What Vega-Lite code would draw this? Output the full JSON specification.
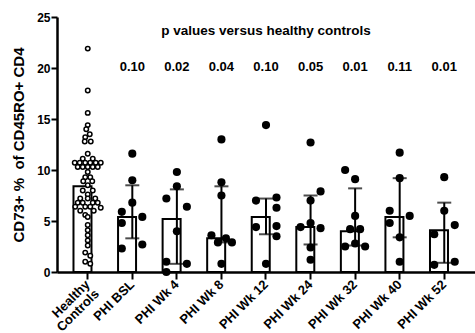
{
  "$schema": "https://vega.github.io/schema/vega-lite/v6.json",
  "width": 418,
  "height": 255,
  "autosize": {"type": "none"},
  "padding": {"left": 57, "top": 17, "right": 0, "bottom": 61},
  "background": "white",
  "datasets": {
    "points": [
      {"group": "Healthy Controls", "value": 21.9, "lane": 0},
      {"group": "Healthy Controls", "value": 17.8, "lane": 0},
      {"group": "Healthy Controls", "value": 15.6, "lane": 0},
      {"group": "Healthy Controls", "value": 14.4, "lane": 0},
      {"group": "Healthy Controls", "value": 14.0, "lane": -0.3},
      {"group": "Healthy Controls", "value": 13.5, "lane": 0.4},
      {"group": "Healthy Controls", "value": 13.2, "lane": -0.5},
      {"group": "Healthy Controls", "value": 12.8, "lane": -0.6},
      {"group": "Healthy Controls", "value": 12.8, "lane": 0.6},
      {"group": "Healthy Controls", "value": 11.6, "lane": 0},
      {"group": "Healthy Controls", "value": 11.1, "lane": -1},
      {"group": "Healthy Controls", "value": 11.1, "lane": 1},
      {"group": "Healthy Controls", "value": 10.7, "lane": -2.6},
      {"group": "Healthy Controls", "value": 10.7, "lane": -1.6},
      {"group": "Healthy Controls", "value": 10.7, "lane": -0.5},
      {"group": "Healthy Controls", "value": 10.7, "lane": 0.5},
      {"group": "Healthy Controls", "value": 10.7, "lane": 1.6},
      {"group": "Healthy Controls", "value": 10.7, "lane": 2.6},
      {"group": "Healthy Controls", "value": 10.3, "lane": -2},
      {"group": "Healthy Controls", "value": 10.3, "lane": -1},
      {"group": "Healthy Controls", "value": 10.3, "lane": 0},
      {"group": "Healthy Controls", "value": 10.3, "lane": 1},
      {"group": "Healthy Controls", "value": 10.3, "lane": 2},
      {"group": "Healthy Controls", "value": 9.8, "lane": 0},
      {"group": "Healthy Controls", "value": 9.3, "lane": -0.5},
      {"group": "Healthy Controls", "value": 9.3, "lane": 0.5},
      {"group": "Healthy Controls", "value": 8.9, "lane": -0.9},
      {"group": "Healthy Controls", "value": 8.9, "lane": 0.9},
      {"group": "Healthy Controls", "value": 8.5, "lane": 0},
      {"group": "Healthy Controls", "value": 8.0, "lane": -1},
      {"group": "Healthy Controls", "value": 8.0, "lane": 1},
      {"group": "Healthy Controls", "value": 7.6, "lane": 0},
      {"group": "Healthy Controls", "value": 7.2, "lane": -1.5},
      {"group": "Healthy Controls", "value": 7.2, "lane": 0},
      {"group": "Healthy Controls", "value": 7.2, "lane": 1.5},
      {"group": "Healthy Controls", "value": 6.8, "lane": -2},
      {"group": "Healthy Controls", "value": 6.8, "lane": -1},
      {"group": "Healthy Controls", "value": 6.8, "lane": 1},
      {"group": "Healthy Controls", "value": 6.8, "lane": 2},
      {"group": "Healthy Controls", "value": 6.4, "lane": -2.5},
      {"group": "Healthy Controls", "value": 6.4, "lane": -0.5},
      {"group": "Healthy Controls", "value": 6.4, "lane": 0.5},
      {"group": "Healthy Controls", "value": 6.3, "lane": 2.6},
      {"group": "Healthy Controls", "value": 6.0, "lane": -1.5},
      {"group": "Healthy Controls", "value": 6.0, "lane": 1.2},
      {"group": "Healthy Controls", "value": 5.6, "lane": -0.5},
      {"group": "Healthy Controls", "value": 5.4, "lane": 0},
      {"group": "Healthy Controls", "value": 4.6, "lane": 0},
      {"group": "Healthy Controls", "value": 4.1, "lane": 0},
      {"group": "Healthy Controls", "value": 3.6, "lane": 0},
      {"group": "Healthy Controls", "value": 3.1, "lane": 0},
      {"group": "Healthy Controls", "value": 2.6, "lane": 0},
      {"group": "Healthy Controls", "value": 1.9, "lane": -0.5},
      {"group": "Healthy Controls", "value": 1.6, "lane": 0.5},
      {"group": "Healthy Controls", "value": 1.0, "lane": -0.5},
      {"group": "Healthy Controls", "value": 0.8, "lane": 0.5},
      {"group": "PHI BSL", "value": 11.6, "lane": 0},
      {"group": "PHI BSL", "value": 9.0, "lane": 0},
      {"group": "PHI BSL", "value": 6.8, "lane": 0},
      {"group": "PHI BSL", "value": 5.9, "lane": -2.1},
      {"group": "PHI BSL", "value": 5.4, "lane": 2},
      {"group": "PHI BSL", "value": 4.8, "lane": -2.1},
      {"group": "PHI BSL", "value": 2.7, "lane": 2},
      {"group": "PHI BSL", "value": 2.3, "lane": -2.1},
      {"group": "PHI Wk 4", "value": 9.8, "lane": 0},
      {"group": "PHI Wk 4", "value": 8.4, "lane": 0},
      {"group": "PHI Wk 4", "value": 7.2, "lane": -2.1},
      {"group": "PHI Wk 4", "value": 6.4, "lane": 2},
      {"group": "PHI Wk 4", "value": 4.0, "lane": 0},
      {"group": "PHI Wk 4", "value": 1.0, "lane": -2.1},
      {"group": "PHI Wk 4", "value": 0.8, "lane": 2},
      {"group": "PHI Wk 4", "value": 0.0, "lane": -2.1},
      {"group": "PHI Wk 8", "value": 13.0, "lane": 0},
      {"group": "PHI Wk 8", "value": 8.8, "lane": 0},
      {"group": "PHI Wk 8", "value": 7.5, "lane": 0},
      {"group": "PHI Wk 8", "value": 3.6, "lane": -2},
      {"group": "PHI Wk 8", "value": 2.9, "lane": -0.7},
      {"group": "PHI Wk 8", "value": 3.3, "lane": 0.9},
      {"group": "PHI Wk 8", "value": 2.9, "lane": 2.1},
      {"group": "PHI Wk 8", "value": 0.8, "lane": 0},
      {"group": "PHI Wk 12", "value": 14.4, "lane": 0},
      {"group": "PHI Wk 12", "value": 7.0, "lane": -2},
      {"group": "PHI Wk 12", "value": 7.3, "lane": 2.1},
      {"group": "PHI Wk 12", "value": 6.3, "lane": 2.1},
      {"group": "PHI Wk 12", "value": 4.4, "lane": -2},
      {"group": "PHI Wk 12", "value": 4.5, "lane": 2.1},
      {"group": "PHI Wk 12", "value": 3.5, "lane": 2.1},
      {"group": "PHI Wk 12", "value": 0.8, "lane": 0},
      {"group": "PHI Wk 24", "value": 12.7, "lane": 0},
      {"group": "PHI Wk 24", "value": 7.9, "lane": 2},
      {"group": "PHI Wk 24", "value": 7.0, "lane": 0},
      {"group": "PHI Wk 24", "value": 4.8, "lane": 0},
      {"group": "PHI Wk 24", "value": 4.4, "lane": -2},
      {"group": "PHI Wk 24", "value": 4.3, "lane": 2},
      {"group": "PHI Wk 24", "value": 2.4, "lane": 0},
      {"group": "PHI Wk 24", "value": 1.2, "lane": 0},
      {"group": "PHI Wk 32", "value": 10.0, "lane": -2},
      {"group": "PHI Wk 32", "value": 9.1, "lane": 0},
      {"group": "PHI Wk 32", "value": 5.5, "lane": 0},
      {"group": "PHI Wk 32", "value": 4.2, "lane": -1},
      {"group": "PHI Wk 32", "value": 4.2, "lane": 1},
      {"group": "PHI Wk 32", "value": 2.5, "lane": -2},
      {"group": "PHI Wk 32", "value": 2.8, "lane": 0},
      {"group": "PHI Wk 32", "value": 2.5, "lane": 2},
      {"group": "PHI Wk 40", "value": 11.7, "lane": 0},
      {"group": "PHI Wk 40", "value": 9.2, "lane": 0},
      {"group": "PHI Wk 40", "value": 6.0, "lane": -2},
      {"group": "PHI Wk 40", "value": 5.5, "lane": 2},
      {"group": "PHI Wk 40", "value": 4.8, "lane": -2},
      {"group": "PHI Wk 40", "value": 3.4, "lane": 0},
      {"group": "PHI Wk 40", "value": 1.0, "lane": 0},
      {"group": "PHI Wk 52", "value": 9.3, "lane": 0},
      {"group": "PHI Wk 52", "value": 6.0, "lane": 0},
      {"group": "PHI Wk 52", "value": 4.6, "lane": 2.1},
      {"group": "PHI Wk 52", "value": 3.7, "lane": -2},
      {"group": "PHI Wk 52", "value": 0.7, "lane": -2},
      {"group": "PHI Wk 52", "value": 1.0, "lane": 2.1}
    ],
    "summary": [
      {"group": "Healthy Controls", "median": 8.4},
      {"group": "PHI BSL", "median": 5.4, "q1": 3.3, "q3": 8.5},
      {"group": "PHI Wk 4", "median": 5.2, "q1": 0.8, "q3": 8.1},
      {"group": "PHI Wk 8", "median": 3.3, "q1": 2.9, "q3": 8.4},
      {"group": "PHI Wk 12", "median": 5.4, "q1": 3.7, "q3": 7.2},
      {"group": "PHI Wk 24", "median": 4.4, "q1": 2.7, "q3": 7.5},
      {"group": "PHI Wk 32", "median": 4.0, "q1": 2.6, "q3": 8.2},
      {"group": "PHI Wk 40", "median": 5.4, "q1": 3.4, "q3": 9.2},
      {"group": "PHI Wk 52", "median": 4.1, "q1": 0.9, "q3": 6.8}
    ],
    "pvals": [
      {"group": "PHI BSL", "p": "0.10"},
      {"group": "PHI Wk 4", "p": "0.02"},
      {"group": "PHI Wk 8", "p": "0.04"},
      {"group": "PHI Wk 12", "p": "0.10"},
      {"group": "PHI Wk 24", "p": "0.05"},
      {"group": "PHI Wk 32", "p": "0.01"},
      {"group": "PHI Wk 40", "p": "0.11"},
      {"group": "PHI Wk 52", "p": "0.01"}
    ],
    "heading": [
      {"group": "PHI Wk 12", "text": "p values versus healthy controls"}
    ]
  },
  "encoding": {
    "x": {
      "field": "group",
      "type": "nominal",
      "sort": null,
      "scale": {
        "domain": ["Healthy Controls", "PHI BSL", "PHI Wk 4", "PHI Wk 8", "PHI Wk 12", "PHI Wk 24", "PHI Wk 32", "PHI Wk 40", "PHI Wk 52"],
        "paddingInner": 0.36,
        "paddingOuter": 0.37
      },
      "axis": {
        "title": null,
        "labelAngle": -45,
        "labelAlign": "right",
        "labelBaseline": "middle",
        "labelFontSize": 13,
        "labelPadding": 3,
        "labelLineHeight": 13,
        "labelExpr": "datum.label == 'Healthy Controls' ? ['Healthy', 'Controls'] : datum.label",
        "tickSize": 7,
        "tickWidth": 2,
        "domainWidth": 2.5
      }
    }
  },
  "layer": [
    {
      "data": {"name": "summary"},
      "mark": {"type": "bar", "fill": "white", "stroke": "black", "strokeWidth": 2, "width": {"band": 1}},
      "encoding": {
        "y": {
          "field": "median",
          "type": "quantitative",
          "scale": {"domain": [0, 25], "nice": false},
          "axis": {
            "title": "CD73+ %\u00a0 of CD45RO+ CD4",
            "titleFontSize": 15,
            "titlePadding": 10,
            "values": [0, 5, 10, 15, 20, 25],
            "labelFontSize": 12,
            "labelPadding": 1,
            "tickSize": 6,
            "tickWidth": 2,
            "domainWidth": 2.5
          }
        }
      }
    },
    {
      "data": {"name": "summary"},
      "transform": [{"filter": "isValid(datum.q1)"}],
      "mark": {"type": "rule", "color": "black", "strokeWidth": 2},
      "encoding": {
        "y": {"field": "q1", "type": "quantitative"},
        "y2": {"field": "q3"}
      }
    },
    {
      "data": {"name": "summary"},
      "transform": [{"filter": "isValid(datum.q1)"}],
      "mark": {"type": "tick", "color": "black", "thickness": 2, "size": 14, "orient": "horizontal"},
      "encoding": {
        "y": {"field": "q1", "type": "quantitative"}
      }
    },
    {
      "data": {"name": "summary"},
      "transform": [{"filter": "isValid(datum.q3)"}],
      "mark": {"type": "tick", "color": "black", "thickness": 2, "size": 14, "orient": "horizontal"},
      "encoding": {
        "y": {"field": "q3", "type": "quantitative"}
      }
    },
    {
      "data": {"name": "points"},
      "transform": [{"filter": "datum.group == 'Healthy Controls'"}],
      "mark": {"type": "point", "shape": "circle", "filled": false, "fill": "white", "fillOpacity": 1, "stroke": "black", "strokeWidth": 1.5, "size": 20, "opacity": 1},
      "encoding": {
        "y": {"field": "value", "type": "quantitative"},
        "xOffset": {"field": "lane", "type": "quantitative", "scale": {"domain": [-3, 3], "range": [-0.74, 29.26]}}
      }
    },
    {
      "data": {"name": "points"},
      "transform": [{"filter": "datum.group != 'Healthy Controls'"}],
      "mark": {"type": "circle", "color": "black", "size": 66, "opacity": 1},
      "encoding": {
        "y": {"field": "value", "type": "quantitative"},
        "xOffset": {"field": "lane", "type": "quantitative"}
      }
    },
    {
      "data": {"name": "pvals"},
      "mark": {"type": "text", "font": "Liberation Sans", "fontWeight": "bold", "fontSize": 13, "color": "black", "baseline": "middle"},
      "encoding": {
        "y": {"datum": 20.1, "type": "quantitative"},
        "text": {"field": "p"}
      }
    },
    {
      "data": {"name": "heading"},
      "mark": {"type": "text", "font": "Liberation Sans", "fontWeight": "bold", "fontSize": 13.5, "color": "black", "baseline": "middle"},
      "encoding": {
        "y": {"datum": 23.6, "type": "quantitative"},
        "text": {"field": "text"}
      }
    }
  ],
  "config": {
    "view": {"stroke": null},
    "axis": {
      "grid": false,
      "domainColor": "black",
      "tickColor": "black",
      "labelColor": "black",
      "titleColor": "black",
      "labelFont": "Liberation Sans",
      "titleFont": "Liberation Sans",
      "labelFontWeight": "bold",
      "titleFontWeight": "bold"
    }
  }
}
